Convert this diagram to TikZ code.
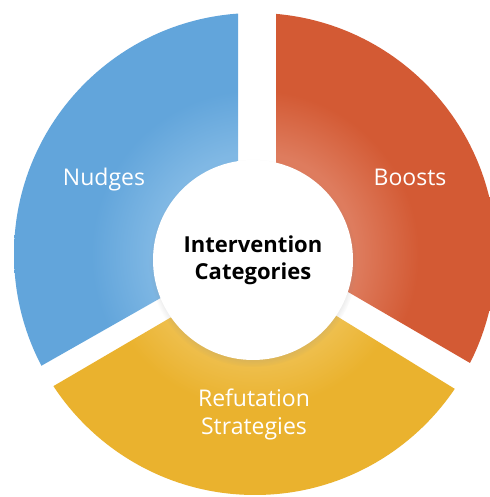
\documentclass[tikz,border=0pt]{standalone}
\usepackage{fontspec}
\setmainfont{Open Sans}
\usepackage{xcolor}
\usetikzlibrary{shadows}
\definecolor{nudgeblue}{RGB}{98,165,219}
\definecolor{nudgelight}{RGB}{128,184,228}
\definecolor{boostred}{RGB}{211,90,52}
\definecolor{boostlight}{RGB}{222,124,94}
\definecolor{refutegold}{RGB}{234,178,46}
\definecolor{refutelight}{RGB}{239,193,82}

% glow around the hub, 25bp = outer rim of the ring
\pgfdeclareradialshading{nudgeglow}{\pgfpoint{0bp}{0bp}}{color(0bp)=(nudgelight); color(10.5bp)=(nudgelight); color(17bp)=(nudgeblue); color(50bp)=(nudgeblue)}
\pgfdeclareradialshading{boostglow}{\pgfpoint{0bp}{0bp}}{color(0bp)=(boostlight); color(10.5bp)=(boostlight); color(17bp)=(boostred); color(50bp)=(boostred)}
\pgfdeclareradialshading{refuteglow}{\pgfpoint{0bp}{0bp}}{color(0bp)=(refutelight); color(10.5bp)=(refutelight); color(16bp)=(refutegold); color(50bp)=(refutegold)}

\begin{document}
\begin{tikzpicture}[x=1pt,y=1pt,
  seglabel/.style={text=white,font=\fontsize{23}{28}\selectfont,align=center}]
\useasboundingbox (0,0) rectangle (489,497);
\fill[white] (0,0) rectangle (489,497);
\coordinate (O) at (255,243);

% Nudges
\begin{scope}
\clip (238,243) -- (238,520) -- (-60,520) -- (-60,73.6) -- cycle;
\shade[shading=nudgeglow] (O) circle (241pt);
\end{scope}
% Boosts
\begin{scope}
\clip (276,247) -- (276,520) -- (560,520) -- (560,81.6) -- cycle;
\shade[shading=boostglow] (O) circle (241pt);
\end{scope}
% Refutation Strategies
\begin{scope}
\clip (257,230) -- (-60,44.5) -- (-60,-40) -- (560,-40) -- (560,43.3) -- cycle;
\shade[shading=refuteglow] (O) circle (241pt);
\end{scope}

\node[circle,fill=white,minimum size=200pt,inner sep=0pt,
  circular drop shadow={shadow xshift=0pt,shadow yshift=-3pt,shadow scale=1.04,opacity=0.35},
  font=\bfseries\fontsize{22}{27}\selectfont,align=center] (hub) at (253,237) {Intervention\\Categories};

\node[seglabel,anchor=base] (nudges) at (104,311) {Nudges};
\node[seglabel,anchor=base] (boosts) at (410,311) {Boosts};
\node[seglabel] (refute) at (254,83) {Refutation\\Strategies};
\end{tikzpicture}
\end{document}
